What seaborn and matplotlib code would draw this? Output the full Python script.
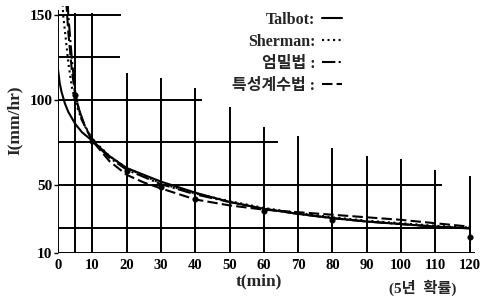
import matplotlib
matplotlib.use("Agg")
import matplotlib.pyplot as plt
import seaborn as sns
import pandas as pd

# ---- data ----
talbot_t = [0, 0.5, 1, 2, 3, 5, 7, 10, 15, 20, 30, 40, 50, 60, 70, 80, 90, 100, 110, 120]
talbot_i = [118, 110, 105, 98, 93, 86, 81, 76, 67, 60, 52, 45.5, 40, 36, 33, 30.5, 28.5, 27, 25.5, 24.5]

sherman_t = [1.3, 1.5, 2, 3, 4, 5, 7, 10, 15, 20, 30, 40, 50, 60, 70, 80, 90, 100, 110, 120]
sherman_i = [160, 150, 141, 122, 108, 99, 88, 77, 67, 60, 51, 45, 40.5, 36.5, 33.5, 31, 29, 27.5, 26, 25]

eommil_t = [2.8, 3, 4, 5, 6, 8, 10, 15, 20, 30, 40, 50, 60, 70, 80, 90, 100, 110, 120]
eommil_i = [158, 150, 125, 105, 95, 84, 76, 66, 59, 50.5, 44.5, 40, 36, 33, 30.5, 28.5, 27, 25.5, 24.5]

teuk_t = [2.4, 3, 4, 5, 7, 10, 15, 20, 25, 30, 40, 50, 60, 70, 80, 90, 100, 110, 120]
teuk_i = [158, 140, 118, 103, 88, 76, 64, 56, 51.5, 48, 41.5, 38, 35.5, 34, 32.5, 31, 29.5, 27.5, 25.5]

obs_t = [5, 10, 20, 30, 40, 60, 80, 120]
obs_i = [103, 76, 58, 49, 42, 35, 29.5, 19.5]

series_names = ["Talbot:", "Sherman:", "엄밀법 :", "특성계수법 :"]
x_ticks = [0, 10, 20, 30, 40, 50, 60, 70, 80, 90, 100, 110, 120]
y_ticks = [10, 50, 100, 150]

# ---- layout (decorative hand-drawn grid extents) ----
vgrid_t = [0, 5, 10, 20, 30, 40, 50, 60, 70, 80, 90, 100, 110, 120]
vgrid_top = [153, 151, 151, 116, 113, 107, 96, 84, 79, 72, 67, 65, 59, 55]
hgrid_y = [150, 125, 100, 75, 50, 25, 10]
hgrid_end = [18.5, 18, 42, 64, 112, 120, 121.5]

sns.set_theme(style="white")
serif = ["Liberation Serif", "Noto Sans CJK KR", "DejaVu Sans"]
plt.rcParams["font.family"] = serif

fig = plt.figure(figsize=(4.82, 2.98), dpi=100)
ax = fig.add_axes([58 / 482, 45 / 298, 418.6 / 482, 246.5 / 298])
ax.set_xlim(0, 122)
ax.set_ylim(10, 155)

for s in ax.spines.values():
    s.set_visible(False)

ax.vlines(vgrid_t, 10, vgrid_top, colors="black", lw=1.4, zorder=1)
ax.hlines(hgrid_y, 0, hgrid_end, colors="black", lw=1.4, zorder=1)

styles = ["-", ":", "-.", (0, (5, 2))]
data = [(talbot_t, talbot_i), (sherman_t, sherman_i), (eommil_t, eommil_i), (teuk_t, teuk_i)]
for name, (tt, ii), ls in zip(series_names, data, styles):
    df = pd.DataFrame({"t": tt, "i": ii})
    sns.lineplot(data=df, x="t", y="i", ax=ax, color="black", lw=1.5,
                 linestyle=ls, label=name, sort=False, zorder=3)

sns.scatterplot(x=obs_t, y=obs_i, ax=ax, color="black", s=16, edgecolor="black",
                zorder=4, legend=False)

ax.set_xticks(x_ticks)
ax.set_xticklabels([str(v) for v in x_ticks])
ax.set_yticks(y_ticks)
ax.set_yticklabels([str(v) for v in y_ticks])
ax.tick_params(axis="x", length=0, pad=4, labelsize=10.5, colors="black")
ax.tick_params(axis="y", length=3, width=1, pad=1, labelsize=11, colors="black", left=True)
for lab in ax.get_xticklabels() + ax.get_yticklabels():
    lab.set_fontweight("bold")

ax.set_xlabel("t(min)", fontsize=12.5, fontweight="bold", labelpad=1, x=0.48)
ax.set_ylabel("I(mm/hr)", fontsize=12.5, fontweight="bold", labelpad=5, y=0.54)

leg = ax.legend(loc="upper right", bbox_to_anchor=(0.683, 0.985), markerfirst=False,
                frameon=False, handlelength=1.3, handletextpad=0.4, labelspacing=0.38,
                borderaxespad=0.0, borderpad=0.1,
                prop={"family": serif, "size": 11.5, "weight": "bold"})

fig.text(423 / 482, 1 - 288 / 298, "(5년  확률)", ha="center", va="center",
         fontsize=11, fontweight="bold", family=serif)

fig.savefig("out.png", dpi=100)
